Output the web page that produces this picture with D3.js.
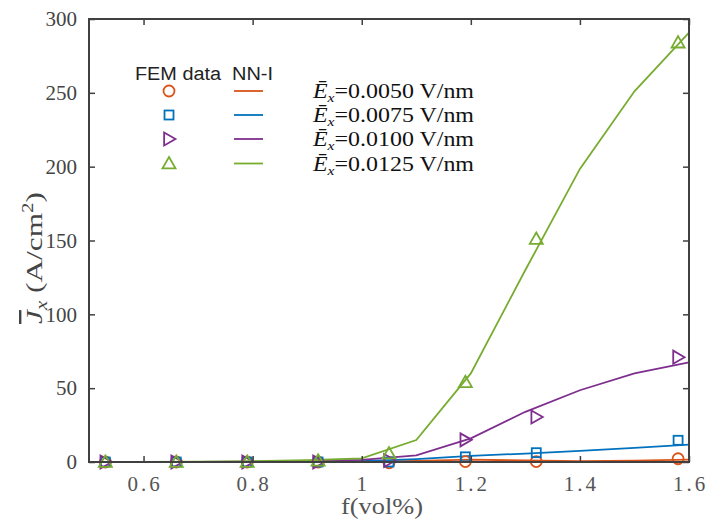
<!DOCTYPE html>
<html><head><meta charset="utf-8">
<script src="https://cdn.jsdelivr.net/npm/d3@7"></script>
<style>
body{margin:0;background:#fff;}
svg{display:block;}
</style></head>
<body><svg id="c" width="709" height="522"></svg>
<script>
// ---- data ----
const xFEM = [0.53, 0.66, 0.79, 0.92, 1.05, 1.19, 1.32, 1.58];
const femE0050 = [0, 0, 0, 0, -0.5, 0.3, 0.3, 2.2];
const femE0075 = [0, 0, 0, 0, 0, 3.5, 6.3, 14.7];
const femE0100 = [0, 0, 0, 0, 1, 15, 30.5, 71];
const femE0125 = [0, 0, 0, 0.8, 5.7, 54, 151, 284];

const xNN = [0.5, 0.6, 0.7, 0.8, 0.9, 1.0, 1.1, 1.2, 1.3, 1.4, 1.5, 1.6];
const nnE0050 = [0, 0, 0, 0, 0, 0.3, 0.8, 1.6, 1.0, 0.6, 0.9, 1.6];
const nnE0075 = [0, 0, 0, 0, 0, 0.6, 2, 4.2, 5.7, 7.5, 9.5, 11.8];
const nnE0100 = [0, 0, 0, 0.2, 0.6, 1.5, 4.5, 16, 34, 48.6, 60, 67.5];
const nnE0125 = [0, 0, 0.2, 0.5, 1.2, 2.5, 14.9, 60, 130, 198.5, 251, 290.7];

const seriesLabels = ["0.0050", "0.0075", "0.0100", "0.0125"];
const xTicks = [0.6, 0.8, 1.0, 1.2, 1.4, 1.6];
const yTicks = [0, 50, 100, 150, 200, 250, 300];

const colors = ["#D95319", "#0072BD", "#7E2F8E", "#77AC30"];
const markers = ["circle", "square", "triRight", "triUp"];
const femSeries = [femE0050, femE0075, femE0100, femE0125];
const nnSeries = [nnE0050, nnE0075, nnE0100, nnE0125];

// ---- layout ----
const L = 89, R = 689, T = 19, B = 462;
const svg = d3.select("#c");
const x = d3.scaleLinear().domain([0.5, 1.6]).range([L, R]);
const y = d3.scaleLinear().domain([0, 300]).range([B, T]);
const axisColor = "#404040";

function drawMarker(g, type, cx, cy, color) {
  if (type === "circle") {
    g.append("circle").attr("cx", cx).attr("cy", cy).attr("r", 5.5)
      .attr("fill", "none").attr("stroke", color).attr("stroke-width", 1.8);
  } else if (type === "square") {
    g.append("rect").attr("x", cx - 4.5).attr("y", cy - 4.5).attr("width", 9).attr("height", 9)
      .attr("fill", "none").attr("stroke", color).attr("stroke-width", 1.8);
  } else if (type === "triUp") {
    const s = 6.5;
    g.append("path").attr("d", `M${cx},${cy - s} L${cx + s},${cy + s * 0.75} L${cx - s},${cy + s * 0.75} Z`)
      .attr("fill", "none").attr("stroke", color).attr("stroke-width", 1.8);
  } else if (type === "triRight") {
    const s = 6.5;
    g.append("path").attr("d", `M${cx + s},${cy} L${cx - s * 0.75},${cy - s} L${cx - s * 0.75},${cy + s} Z`)
      .attr("fill", "none").attr("stroke", color).attr("stroke-width", 1.8);
  }
}

// lines
const line = d3.line().x((d, i) => x(xNN[i])).y(d => y(d));
const plot = svg.append("g");
nnSeries.forEach((s, k) => {
  plot.append("path").attr("d", line(s)).attr("fill", "none")
    .attr("stroke", colors[k]).attr("stroke-width", 1.8);
});
// markers
femSeries.forEach((s, k) => {
  s.forEach((v, i) => drawMarker(plot, markers[k], x(xFEM[i]), y(v), colors[k]));
});

// axes (box with inward ticks)
const tickLen = 6;
const xb = svg.append("g").attr("transform", `translate(0,${B})`)
  .call(d3.axisBottom(x).tickValues(xTicks).tickSizeInner(-tickLen).tickSizeOuter(0).tickPadding(14)
    .tickFormat(d => d3.format("")(+d.toFixed(1))));
const xt = svg.append("g").attr("transform", `translate(0,${T})`)
  .call(d3.axisTop(x).tickValues(xTicks).tickSizeInner(-tickLen).tickSizeOuter(0).tickFormat(""));
const yl = svg.append("g").attr("transform", `translate(${L},0)`)
  .call(d3.axisLeft(y).tickValues(yTicks).tickSizeInner(-tickLen).tickSizeOuter(0).tickPadding(12));
const yr = svg.append("g").attr("transform", `translate(${R},0)`)
  .call(d3.axisRight(y).tickValues(yTicks).tickSizeInner(-tickLen).tickSizeOuter(0).tickFormat(""));
[xb, xt, yl, yr].forEach(g => {
  g.select(".domain").remove();
  g.selectAll(".tick line").attr("stroke", axisColor).attr("stroke-width", 1.5);
});
svg.append("rect").attr("x", L).attr("y", T).attr("width", R - L).attr("height", B - T)
  .attr("fill", "none").attr("stroke", axisColor).attr("stroke-width", 2);

xb.selectAll(".tick text").attr("font-family", "Liberation Serif").attr("font-size", 21)
  .attr("fill", "#555").attr("letter-spacing", "3px").attr("dx", 1);
yl.selectAll(".tick text").attr("font-family", "Liberation Serif").attr("font-size", 21)
  .attr("fill", "#444");

// axis labels
svg.append("text").attr("x", 382).attr("y", 514).attr("text-anchor", "middle")
  .attr("font-family", "Liberation Serif").attr("font-size", 23).attr("fill", "#555")
  .attr("textLength", 82).attr("lengthAdjust", "spacingAndGlyphs")
  .text("f(vol%)");

const ylab = svg.append("text").attr("transform", "translate(42,258) rotate(-90)")
  .attr("text-anchor", "middle").attr("font-family", "Liberation Serif").attr("font-size", 24)
  .attr("fill", "#444").attr("textLength", 132).attr("lengthAdjust", "spacingAndGlyphs");
ylab.append("tspan").attr("font-style", "italic").attr("text-decoration", "overline").text("J");
ylab.append("tspan").attr("font-style", "italic").attr("font-size", 16).attr("dy", 5).text("x");
ylab.append("tspan").attr("dy", -5).text("\u00a0(A/cm");
ylab.append("tspan").attr("font-size", 16).attr("dy", -9).text("2");
ylab.append("tspan").attr("dy", 9).text(")");

// legend
const lg = svg.append("g");
lg.append("text").attr("x", 135).attr("y", 80).attr("font-family", "Liberation Sans")
  .attr("font-size", 18).attr("fill", "#222").attr("textLength", 86).attr("lengthAdjust", "spacingAndGlyphs")
  .text("FEM data");
lg.append("text").attr("x", 232).attr("y", 80).attr("font-family", "Liberation Sans")
  .attr("font-size", 18).attr("fill", "#222").attr("textLength", 41).attr("lengthAdjust", "spacingAndGlyphs")
  .text("NN-I");
const rowY = [91, 115, 139, 163.5];
seriesLabels.forEach((lab, k) => {
  const cy = rowY[k];
  drawMarker(lg, markers[k], 169, cy, colors[k]);
  lg.append("line").attr("x1", 234).attr("x2", 263).attr("y1", cy).attr("y2", cy)
    .attr("stroke", colors[k]).attr("stroke-width", 1.8);
  const t = lg.append("text").attr("x", 313).attr("y", cy + 7)
    .attr("font-family", "Liberation Serif").attr("font-size", 20).attr("fill", "#111")
    .attr("textLength", 161).attr("lengthAdjust", "spacingAndGlyphs");
  t.append("tspan").attr("font-style", "italic").text("\u0112");
  t.append("tspan").attr("font-style", "italic").attr("font-size", 13).attr("dy", 4).text("x");
  t.append("tspan").attr("dy", -4).text("=" + lab + " V/nm");
});
</script>
</body></html>
